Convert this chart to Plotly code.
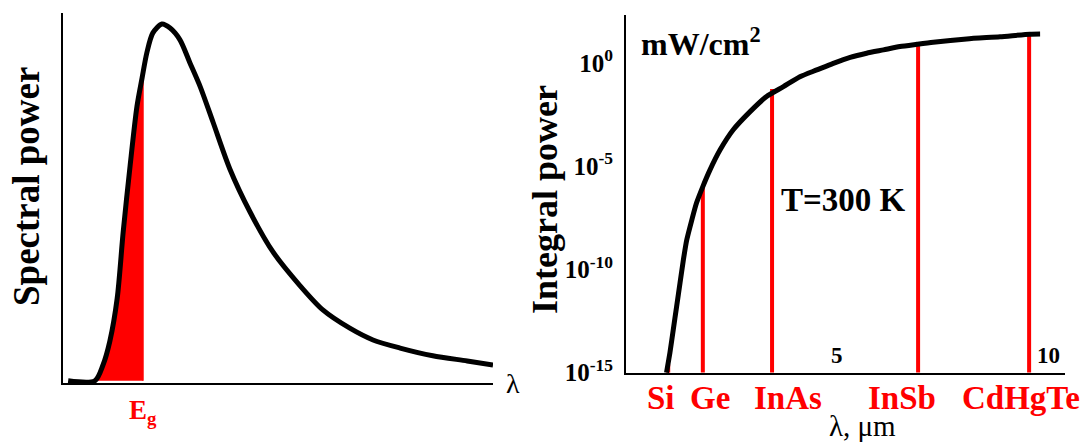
import numpy as np
import plotly.graph_objects as go

# ---------------- Data ----------------
# Left panel: spectral power vs wavelength (arbitrary, normalized units)
spec_lambda = [0.12, 0.74, 0.93, 1.09, 1.26, 1.40, 1.56, 1.72, 1.84, 1.95, 2.09, 2.30,
               2.49, 2.72, 2.95, 3.19, 3.49, 3.88, 4.35, 4.88, 5.51, 6.05, 6.67, 7.21,
               7.84, 8.60, 9.40, 10.0]
spec_power = [0.0, 0.0, 0.043, 0.108, 0.224, 0.405, 0.584, 0.746, 0.824, 0.892, 0.946, 0.970,
              0.959, 0.927, 0.865, 0.800, 0.703, 0.576, 0.459, 0.351, 0.259, 0.192, 0.143, 0.111,
              0.089, 0.068, 0.054, 0.043]
eg_lambda = 1.86

# Right panel: integral power (log10 mW/cm^2) vs cutoff wavelength (um), T = 300 K
int_lambda = [0.96, 1.04, 1.12, 1.20, 1.28, 1.36, 1.44, 1.56, 1.67, 1.82, 1.99, 2.23, 2.54,
              2.94, 3.33, 3.73, 4.12, 4.52, 4.91, 5.31, 5.70, 6.10, 6.49, 6.89, 7.28, 8.07,
              8.86, 9.57, 9.81]
int_log_power = [-15.0, -14.05, -12.92, -11.79, -10.66, -9.53, -8.57, -7.60, -6.79, -5.99,
                 -5.18, -4.21, -3.24, -2.36, -1.63, -1.15, -0.67, -0.34, -0.02, 0.27, 0.47,
                 0.63, 0.79, 0.90, 1.00, 1.16, 1.27, 1.39, 1.40]
materials = ["Si", "Ge", "InAs", "InSb", "CdHgTe"]
cutoff_um = [1.00, 1.82, 3.46, 6.92, 9.55]
cutoff_log_power = [-14.6, -6.0, -1.26, 0.92, 1.45]
label_shift_px = [-7, 7, 16, -16, -8]

y_tick_exp = [-15, -10, -5, 0]
x_tick_vals = [5, 10]

# ---------------- Figure ----------------
W, H = 1091, 443
FONT = "Liberation Serif"
RED = "#ff0000"

def px_x(p):
    return p / W

def px_y(p):
    return 1 - p / H

fig = go.Figure()

# Left: red filled area under the curve up to Eg
fx = [x for x in spec_lambda if x <= eg_lambda] + [eg_lambda]
fy = list(np.interp(fx, spec_lambda, spec_power))
fig.add_trace(go.Scatter(x=fx, y=fy, mode="lines", line=dict(width=0, color=RED),
                         fill="tozeroy", fillcolor=RED, xaxis="x", yaxis="y",
                         hoverinfo="skip", showlegend=False))
fig.add_trace(go.Scatter(x=[eg_lambda, eg_lambda], y=[0, fy[-1]], mode="lines",
                         line=dict(width=1.5, color=RED), xaxis="x", yaxis="y",
                         showlegend=False))
fig.add_trace(go.Scatter(x=spec_lambda, y=spec_power, mode="lines",
                         line=dict(width=5, color="black", shape="spline", smoothing=0.8),
                         xaxis="x", yaxis="y", showlegend=False))

# Right: red cut-off lines
for c, v in zip(cutoff_um, cutoff_log_power):
    fig.add_trace(go.Scatter(x=[c, c], y=[1e-15, 10 ** v], mode="lines",
                             line=dict(width=4, color=RED), xaxis="x2", yaxis="y2",
                             showlegend=False))
fig.add_trace(go.Scatter(x=int_lambda, y=[10 ** v for v in int_log_power], mode="lines",
                         line=dict(width=5, color="black", shape="spline", smoothing=0.6),
                         xaxis="x2", yaxis="y2", showlegend=False))

axis_common = dict(showline=True, linecolor="black", linewidth=2, showgrid=False,
                   zeroline=False, ticks="", automargin=False)

fig.update_layout(
    width=W, height=H,
    margin=dict(l=0, r=0, t=0, b=0, pad=0),
    paper_bgcolor="white", plot_bgcolor="white",
    showlegend=False,
    font=dict(family=FONT, color="black"),
    xaxis=dict(domain=[px_x(63), px_x(493)], range=[0, 10], showticklabels=False,
               anchor="y", **axis_common),
    yaxis=dict(domain=[px_y(383), px_y(13)], range=[-0.006, 1.0], showticklabels=False,
               anchor="x", **axis_common),
    xaxis2=dict(domain=[px_x(626), px_x(1065)], range=[0, 10.40], anchor="y2",
                showticklabels=False, **axis_common),
    yaxis2=dict(domain=[px_y(373), px_y(15)], type="log", range=[-15.02, 2.32], anchor="x2",
                tickvals=[10.0 ** e for e in y_tick_exp],
                ticktext=["10<sup>%d</sup>" % e for e in y_tick_exp],
                ticklabelstandoff=6,
                tickfont=dict(family=FONT, size=25, color="black", weight="bold"),
                **axis_common),
)

ann = []
bold = dict(family=FONT, color="black", weight="bold")
mid = dict(xanchor="center", yanchor="middle", showarrow=False)

ann.append(dict(text="Spectral power", x=px_x(27), y=px_y(187), xref="paper", yref="paper",
                textangle=-90, font=dict(size=37, **bold), **mid))
ann.append(dict(text="Integral power", x=px_x(545), y=px_y(200), xref="paper", yref="paper",
                textangle=-90, font=dict(size=36, **bold), **mid))
ann.append(dict(text="λ", x=px_x(513), y=px_y(383), xref="paper", yref="paper",
                font=dict(size=28, family=FONT, color="black"), **mid))
ann.append(dict(text="E<sub>g</sub>", x=eg_lambda, y=px_y(412), xref="x", yref="paper",
                font=dict(size=27, family=FONT, color=RED, weight="bold"), **mid))
ann.append(dict(text="mW/cm<sup>2</sup>", x=px_x(639), y=px_y(42), xref="paper", yref="paper",
                xanchor="left", yanchor="middle", showarrow=False, font=dict(size=32, **bold)))
ann.append(dict(text="T=300 K", x=px_x(779), y=px_y(200), xref="paper", yref="paper",
                xanchor="left", yanchor="middle", showarrow=False, font=dict(size=33, **bold)))
ann.append(dict(text="λ, μm", x=px_x(862), y=px_y(426), xref="paper", yref="paper",
                font=dict(size=29, family=FONT, color="black"), **mid))
# x tick labels drawn inside the plot, above the axis
for v in x_tick_vals:
    ann.append(dict(text=str(v), x=v, y=px_y(355), xref="x2", yref="paper",
                    font=dict(size=23, **bold), **mid))
for m, c, s in zip(materials, cutoff_um, label_shift_px):
    ann.append(dict(text=m, x=c, xshift=s, y=px_y(398), xref="x2", yref="paper",
                    font=dict(size=33, family=FONT, color=RED, weight="bold"), **mid))
fig.update_layout(annotations=ann)

fig.write_html("out.html", config={"displayModeBar": False},
               post_script="document.body.style.margin='0';document.body.style.overflow='hidden';")
